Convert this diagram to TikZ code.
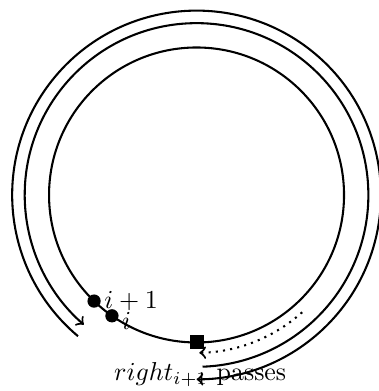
\documentclass[tikz,border=0pt]{standalone}
\usetikzlibrary{arrows,positioning}

\begin{document}
\begin{tikzpicture}[scale=1]
\tikzset{
    track/.style={thick},
    ptdot/.style={circle, fill, inner sep=0pt, minimum size=0.18cm},
    ptsquare/.style={rectangle, fill, inner sep=0pt, minimum size=0.19cm},
    labelnode/.style={inner sep=1pt}
}
\useasboundingbox (-2.665,-2.658) rectangle (2.461,2.644);

% the ring and the two passes round it
\draw[track] (0,0) circle (2);
\draw[track, ->] (230:2.5) arc[start angle=230, end angle=-90, radius=2.5];
\draw[track, ->] (-88:2.33) arc[start angle=-88, end angle=229, radius=2.33];
\draw[track, dotted, ->] (-48:2.14) arc[start angle=-48, end angle=-89, radius=2.14];

\node[ptdot] (ip1) at (226:2) {};
\node[ptdot] (ii) at (235:2) {};
\node[ptsquare] (rsq) at (270:2) {};
\node[labelnode, right=0pt of ip1] {$i+1$};
\node[labelnode, right=0pt of ii, yshift=-2pt] {$i$};

\node[labelnode] (passes) at (0.05,-2.43) {$right_{i+1}$ passes};

\end{tikzpicture}
\end{document}
